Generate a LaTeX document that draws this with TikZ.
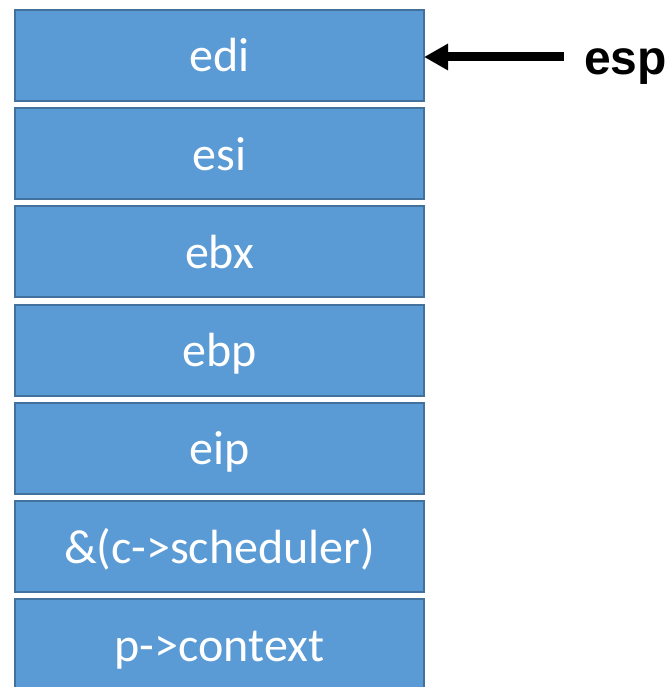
\documentclass[tikz,border=0pt]{standalone}
\usepackage{fontspec}
\setmainfont{Carlito}
\newfontfamily\labelfont{Liberation Sans}
\usetikzlibrary{arrows.meta}
\definecolor{cellfill}{HTML}{5B9BD5}
\definecolor{celledge}{HTML}{41719C}
\tikzset{
  cell/.style={draw=celledge, line width=2pt, fill=cellfill, minimum width=409pt,
    minimum height=91pt, inner sep=0pt, anchor=north west, text=white,
    text height=40pt, text depth=7pt,
    font=\fontsize{48pt}{52pt}\selectfont},
  pointer/.style={line width=9pt, -{Triangle[length=24pt,width=25pt]}}
}
\begin{document}
\begin{tikzpicture}[x=1pt,y=-1pt]
  \useasboundingbox (0,0) rectangle (667,687);
  \begin{scope}
    \clip (0,0) rectangle (667,687);
    \node[cell] (edi) at (14,9) {edi};
    \node[cell] (esi) at (14,107.2) {esi};
    \node[cell] (ebx) at (14,205.4) {ebx};
    \node[cell] (ebp) at (14,303.6) {ebp};
    \node[cell] (eip) at (14,401.8) {eip};
    \node[cell] (sched) at (14,500) {\&(c->scheduler)};
    \node[cell] (ctx) at (14,598.2) {p->context};
  \end{scope}
  \node[font=\labelfont\bfseries\fontsize{48pt}{52pt}\selectfont, anchor=base west, inner sep=0pt]
    (esp) at (584,75) {esp};
  \coordinate (tail) at (564,57);
  \draw[pointer] (tail) -- ([xshift=-1pt]edi.east |- tail);
\end{tikzpicture}
\end{document}
